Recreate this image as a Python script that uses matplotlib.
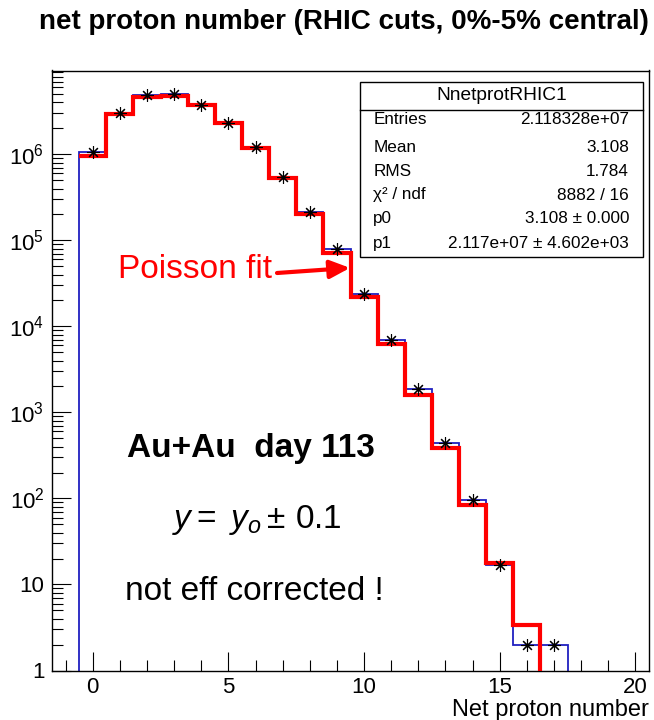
import numpy as np
import matplotlib
matplotlib.use("Agg")
import matplotlib.pyplot as plt
from matplotlib.ticker import FixedLocator, FixedFormatter, MultipleLocator, LogLocator, NullFormatter
from matplotlib.patches import Rectangle

plt.rcParams['font.family'] = ['Liberation Sans', 'DejaVu Sans']
plt.rcParams['mathtext.fontset'] = 'custom'
plt.rcParams['mathtext.rm'] = 'Liberation Sans'
plt.rcParams['mathtext.it'] = 'Liberation Sans:italic'
plt.rcParams['mathtext.bf'] = 'Liberation Sans:bold'

# net proton number per event, bins centred on integers
net_p = np.arange(0, 18)
counts = [1.06e6, 3.0e6, 4.85e6, 5.05e6, 3.75e6, 2.3e6, 1.2e6, 5.5e5, 2.15e5,
          7.9e4, 2.35e4, 6.9e3, 1.85e3, 440, 95, 17, 2, 2]
# poisson fit, p0 = mean, p1 = norm
fit_vals = [9.5e5, 2.95e6, 4.6e6, 4.75e6, 3.7e6, 2.3e6, 1.19e6, 5.3e5, 2.05e5,
            7.1e4, 2.2e4, 6.2e3, 1.6e3, 385, 85, 17.6, 3.4, 0.63]

stat_names = ['Entries', 'Mean', 'RMS', 'χ² / ndf', 'p0', 'p1']
stat_vals = ['2.118328e+07', '3.108', '1.784', '8882 / 16',
             '3.108 ± 0.000', '2.117e+07 ± 4.602e+03']

ytick_vals = [1, 10, 1e2, 1e3, 1e4, 1e5, 1e6]
ytick_labels = ['1', '10', '$10^{2}$', '$10^{3}$', '$10^{4}$', '$10^{5}$', '$10^{6}$']

fig = plt.figure(figsize=(6.54, 7.2), dpi=100)
ax = fig.add_axes([52/654, 1 - 670.5/720, 597/654, 600/720])

edges = np.append(net_p - 0.5, net_p[-1] + 0.5)
ax.stairs(counts, edges, baseline=0.01, color='#2020c0', lw=1.3, zorder=2)
ax.stairs(fit_vals, edges, baseline=None, color='red', lw=3, zorder=3)
ax.plot(net_p, counts, ls='none', marker=(8, 2, 0), ms=9, mew=0.8,
        color='black', zorder=4)

ax.set_yscale('log')
ax.set_xlim(-1.5, 20.5)
ax.set_ylim(1, 10**6.974)

ax.yaxis.set_major_locator(FixedLocator(ytick_vals))
ax.yaxis.set_major_formatter(FixedFormatter(ytick_labels))
ax.yaxis.set_minor_locator(LogLocator(base=10, subs=np.arange(2, 10)))
ax.yaxis.set_minor_formatter(NullFormatter())
ax.xaxis.set_major_locator(MultipleLocator(5))
ax.xaxis.set_minor_locator(MultipleLocator(1))

ax.tick_params(which='both', direction='in', top=False, right=False, width=0.8)
ax.tick_params(which='major', length=13.7, labelsize=16)
ax.tick_params(which='minor', length=7.6)
ax.tick_params(axis='x', pad=4.5)
ax.tick_params(axis='y', pad=5.5)
for s in ax.spines.values():
    s.set_linewidth(1.0)

ax.set_xlabel('Net proton number', fontsize=17, loc='right')
ax.xaxis.set_label_coords(1.0, -0.066)
ax.xaxis.label.set_va('center')

fig.text(0.526, 1 - 22/720, 'net proton number (RHIC cuts, 0%-5% central)',
         ha='center', va='center', fontsize=20, fontweight='bold')

# stats box
ax.add_patch(Rectangle((0.516, 0.689), 0.474, 0.292, transform=ax.transAxes,
                       facecolor='white', edgecolor='black', lw=1.0, zorder=5))
ax.plot([0.516, 0.990], [0.934, 0.934], transform=ax.transAxes,
        color='black', lw=1.0, zorder=6)
ax.text(0.753, 0.9575, 'NnetprotRHIC1', transform=ax.transAxes, ha='center',
        va='center', fontsize=13.8, zorder=6)
row_y = [0.9175, 0.8725, 0.831, 0.7925, 0.754, 0.711]
for yy, nm, vv in zip(row_y, stat_names, stat_vals):
    ax.text(0.538, yy, nm, transform=ax.transAxes, ha='left', va='center',
            fontsize=12.3, zorder=6)
    ax.text(0.9665, yy, vv, transform=ax.transAxes, ha='right', va='center',
            fontsize=12.3, zorder=6)

# annotations
ax.text(0.1106, 0.654, 'Poisson fit', transform=ax.transAxes, color='red',
        fontsize=24, va='baseline')
ax.annotate('', xy=(0.4992, 0.671), xytext=(0.3769, 0.6625),
            xycoords='axes fraction', textcoords='axes fraction',
            arrowprops=dict(arrowstyle='-|>,head_length=0.55,head_width=0.25',
                            color='red', lw=3, mutation_scale=22,
                            shrinkA=0, shrinkB=0), zorder=6)
ax.text(0.1256, 0.3553, 'Au+Au  day 113', transform=ax.transAxes,
        fontsize=24, fontweight='bold', va='baseline')
ax.text(0.201, 0.237, r'$y =\ y_{o} \pm \,0.1$', transform=ax.transAxes,
        fontsize=24, va='baseline')
ax.text(0.122, 0.1175, 'not eff corrected !', transform=ax.transAxes,
        fontsize=24, va='baseline')

fig.savefig('out.png', dpi=100)
